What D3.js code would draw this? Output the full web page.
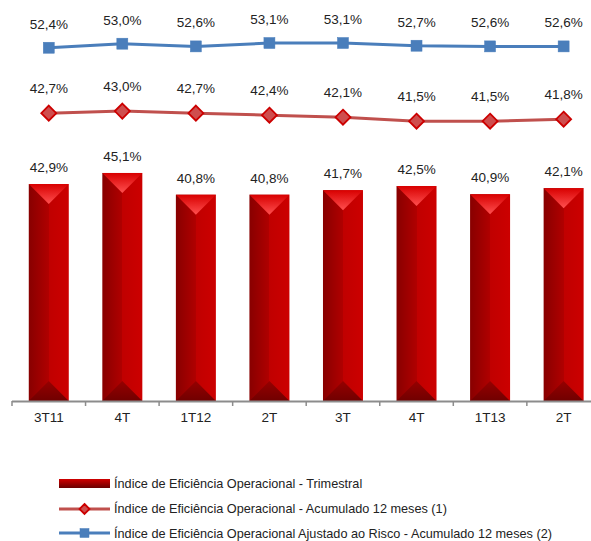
<!DOCTYPE html>
<html><head><meta charset="utf-8">
<script src="https://cdn.jsdelivr.net/npm/d3@7"></script>
<style>body{margin:0;background:#fff}svg{display:block;font-family:"Liberation Sans",Arial,sans-serif}</style>
</head><body><svg id="c" width="591" height="541"></svg>
<script>
const categories = ["3T11","4T","1T12","2T","3T","4T","1T13","2T"];
const trimestral = [42.9,45.1,40.8,40.8,41.7,42.5,40.9,42.1];
const acumulado = [42.7,43.0,42.7,42.4,42.1,41.5,41.5,41.8];
const ajustado = [52.4,53.0,52.6,53.1,53.1,52.7,52.6,52.6];
const legendLabels = [
  "Índice de Eficiência Operacional - Trimestral",
  "Índice de Eficiência Operacional - Acumulado 12 meses (1)",
  "Índice de Eficiência Operacional Ajustado ao Risco - Acumulado 12 meses (2)"
];
const fmt = v => v.toFixed(1).replace(".", ",") + "%";

const svg = d3.select("#c");
const x0 = 12, x1 = 12 + 8*73.55, yBase = 401, yTop = -3.5;
const x = d3.scaleBand().domain(d3.range(categories.length)).range([x0, x1]).paddingInner(0).paddingOuter(0);
const yL = d3.scaleLinear().domain([0,80]).range([yBase, yTop]);
const yR = d3.scaleLinear().domain([0,60]).range([yBase, yTop]);
const bw = 40;
const fs = 13.5;

const defs = svg.append("defs");
function lg(id, stops, x2, y2){
  const g = defs.append("linearGradient").attr("id", id).attr("x1",0).attr("y1",0).attr("x2",x2).attr("y2",y2);
  stops.forEach(s => g.append("stop").attr("offset", s[0]).attr("stop-color", s[1]));
}
lg("barBody", [[0,"#880000"],[0.5,"#b00000"],[0.5,"#c00000"],[1,"#cc0000"]], 1, 0);
lg("barTop", [[0,"#d80000"],[1,"#ff5050"]], 0, 1);
lg("barBot", [[0,"#960000"],[1,"#700000"]], 0, 1);
lg("legSw", [[0,"#d00000"],[1,"#6a0000"]], 0, 1);

// bars
const bars = svg.append("g").selectAll("g").data(trimestral).join("g");
bars.each(function(v, i){
  const g = d3.select(this);
  const cx = x(i) + x.bandwidth()/2, l = cx - bw/2, r = cx + bw/2, t = yL(v), b = yL(0);
  g.append("rect").attr("x", l).attr("y", t).attr("width", bw).attr("height", b - t).attr("fill", "url(#barBody)");
  g.append("path").attr("d", `M${l},${t}L${r},${t}L${cx},${t+bw/2}Z`).attr("fill", "url(#barTop)");
  g.append("path").attr("d", `M${l},${b}L${r},${b}L${cx},${b-bw/2}Z`).attr("fill", "url(#barBot)");
  g.append("text").attr("x", cx).attr("y", t - 12).attr("text-anchor","middle")
    .attr("font-size", fs).attr("fill", "#222").text(fmt(v));
});

// axis
svg.append("line").attr("x1", x0).attr("x2", 600).attr("y1", yBase + 0.5).attr("y2", yBase + 0.5)
  .attr("stroke", "#8c8c8c").attr("stroke-width", 2);
svg.append("g").selectAll("line").data(d3.range(categories.length)).join("line")
  .attr("x1", i => x(i)).attr("x2", i => x(i)).attr("y1", yBase).attr("y2", yBase + 5)
  .attr("stroke", "#8c8c8c").attr("stroke-width", 1.5);
svg.append("g").selectAll("text").data(categories).join("text")
  .attr("x", (d,i) => x(i) + x.bandwidth()/2).attr("y", 422).attr("text-anchor","middle")
  .attr("font-size", fs).attr("fill", "#222").text(d => d);

// lines
function series(data, color, markerFn, labelOff){
  const cxs = i => x(i) + x.bandwidth()/2;
  svg.append("path").datum(data).attr("fill","none").attr("stroke", color.line).attr("stroke-width", 3)
    .attr("d", d3.line().x((d,i) => cxs(i)).y(d => yR(d)));
  const g = svg.append("g");
  data.forEach((v,i) => markerFn(g, cxs(i), yR(v)));
  svg.append("g").selectAll("text").data(data).join("text")
    .attr("x", (d,i) => cxs(i)).attr("y", d => yR(d) - labelOff).attr("text-anchor","middle")
    .attr("font-size", fs).attr("fill", "#222").text(fmt);
}
const diamond = (g, cx, cy, s=7.5) => g.append("path").attr("d", `M${cx},${cy-s}L${cx+s},${cy}L${cx},${cy+s}L${cx-s},${cy}Z`)
  .attr("fill", "#cf4e4e").attr("stroke", "#cc0000").attr("stroke-width", 1.8);
const square = (g, cx, cy, s=11) => g.append("rect").attr("x", cx-s/2).attr("y", cy-s/2).attr("width", s).attr("height", s)
  .attr("fill", "#4a7ebb").attr("stroke", "#4a7ebb").attr("stroke-width", 0.5);
series(acumulado, {line:"#c0504d"}, diamond, 20);
series(ajustado, {line:"#4a7ebb"}, square, 19);

// legend
const lx = 59, lw = 51, tx = 114;
const leg = svg.append("g");
leg.append("rect").attr("x", lx).attr("y", 479).attr("width", lw).attr("height", 9).attr("fill", "url(#legSw)");
leg.append("line").attr("x1", lx).attr("x2", lx+lw).attr("y1", 509).attr("y2", 509).attr("stroke", "#c0504d").attr("stroke-width", 3);
diamond(leg, lx+lw/2, 509, 5);
leg.append("line").attr("x1", lx).attr("x2", lx+lw).attr("y1", 533).attr("y2", 533).attr("stroke", "#4a7ebb").attr("stroke-width", 3);
square(leg, lx+lw/2, 533, 9);
leg.selectAll("text").data(legendLabels).join("text")
  .attr("x", tx).attr("y", (d,i) => [487.5, 513, 537.5][i]).attr("font-size", 12.7).attr("fill", "#222").text(d => d);
</script></body></html>
